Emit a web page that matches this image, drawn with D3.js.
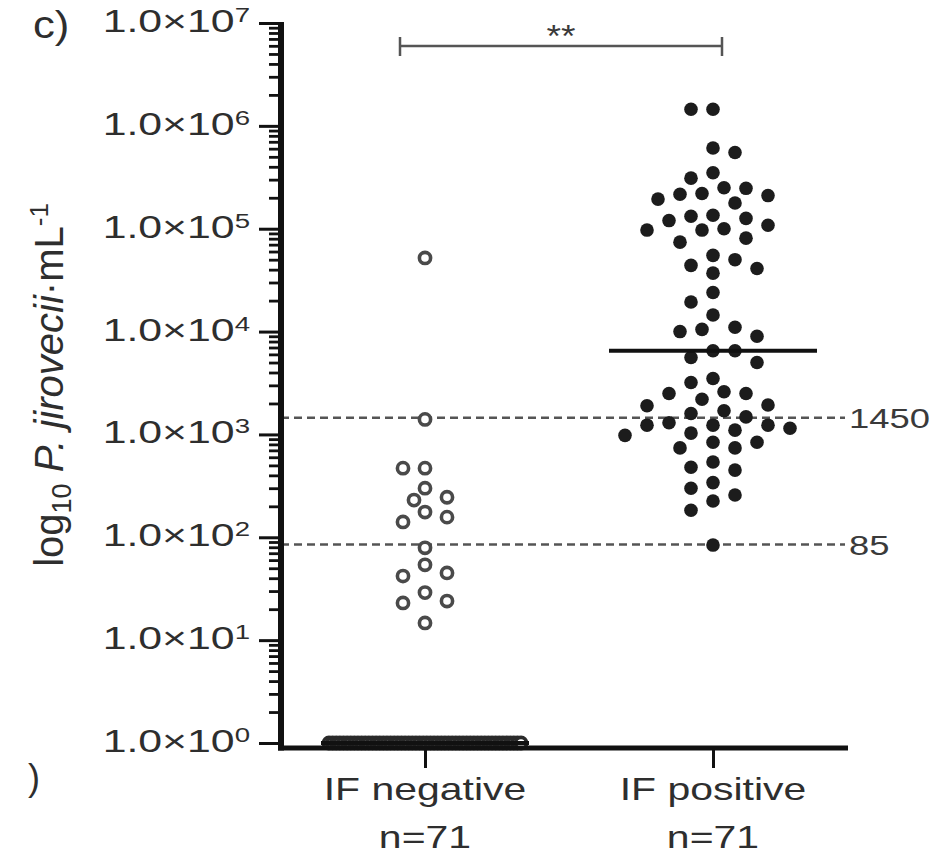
<!DOCTYPE html>
<html>
<head>
<meta charset="utf-8">
<script src="https://cdn.jsdelivr.net/npm/d3@7"></script>
<style>
    body { margin:0; background:#fff; }
    text { font-family: "Liberation Sans", Arial, sans-serif; }
</style>
</head>
<body>
<script>
    // ---- data ----
    var groups = ["IF negative", "IF positive"];
    var groupN = ["n=71", "n=71"];

    // IF negative: 18 quantified samples + 53 at the 1.0 floor
    var negValues = [52000, 1400, 470, 470, 300, 245, 230, 176, 157, 141, 79, 54, 45, 42, 29, 24, 23, 14.7,
        1, 1, 1, 1, 1, 1, 1, 1, 1, 1, 1, 1, 1, 1, 1, 1, 1, 1, 1, 1, 1, 1, 1, 1, 1, 1, 1,
        1, 1, 1, 1, 1, 1, 1, 1, 1, 1, 1, 1, 1, 1, 1, 1, 1, 1, 1, 1, 1, 1, 1, 1, 1, 1, 1];

    var posValues = [1450000, 1450000, 610000, 550000, 350000, 310000, 250000, 247000, 220000, 216000,
        210000, 194000, 178000, 135000, 132000, 126000, 120000, 108000, 100000, 97000,
        97000, 81000, 74000, 55000, 50000, 44000, 41000, 37000, 24000, 19400,
        14500, 11000, 10500, 10000, 9000, 6500, 6500, 5600, 5000, 3500,
        3200, 2600, 2500, 2500, 2200, 1930, 1900, 1700, 1600, 1480,
        1300, 1230, 1230, 1230, 1150, 1100, 1030, 980, 840, 840,
        740, 740, 540, 480, 450, 340, 300, 258, 225, 183, 84];

    var cutoffs = [1450, 85];
    var majorTicks = [1, 10, 100, 1e3, 1e4, 1e5, 1e6, 1e7];
    var sigLabel = "**";

    // ---- layout ----
    var width = 950, height = 857;
    var axisX = 281, axisY = 748, axisRight = 848;
    var medianHalf = 104;

    var svg = d3.select("body").append("svg")
        .attr("width", width)
        .attr("height", height);

    var y = d3.scaleLog().domain([1, 1e7]).range([743, 23]);
    var x = d3.scalePoint().domain(groups).range([281, 857]).padding(0.5);

    // beeswarm: greedy placement on a half-step grid, crowds of identical values squeezed in one row
    function swarm(vals, cx, step, minDist, crowdHalf) {
        var counts = d3.rollup(vals, function(v) { return v.length; }, function(d) { return d; });
        var sorted = vals.slice().sort(function(a, b) { return b - a; });
        var placed = [], crowdIdx = new Map();
        sorted.forEach(function(v) {
            var py = y(v);
            var n = counts.get(v);
            if (n > 9) {
                var i = crowdIdx.get(v) || 0;
                crowdIdx.set(v, i + 1);
                placed.push({v: v, x: cx - crowdHalf + i * (2 * crowdHalf / (n - 1)), y: py, crowd: true});
                return;
            }
            var left = placed.filter(function(p) { return !p.crowd && p.x < cx; }).length;
            var right = placed.filter(function(p) { return !p.crowd && p.x > cx; }).length;
            for (var k = 0; k < 30; k++) {
                var offs = k === 0 ? [0] : (left <= right ? [-k * step, k * step] : [k * step, -k * step]);
                var ok = null;
                for (var j = 0; j < offs.length; j++) {
                    var px = cx + offs[j];
                    var clash = placed.some(function(p) {
                        var dx = p.x - px, dy = p.y - py;
                        return dx * dx + dy * dy < minDist * minDist;
                    });
                    if (!clash) { ok = px; break; }
                }
                if (ok !== null) { placed.push({v: v, x: ok, y: py}); return; }
            }
        });
        return placed;
    }

    var negPts = swarm(negValues, x(groups[0]), 11, 16, 96);
    var posPts = swarm(posValues, x(groups[1]), 11, 17, 96);

    // cut-off lines
    svg.selectAll(".cutoff").data(cutoffs).enter().append("line")
        .attr("class", "cutoff")
        .attr("x1", axisX).attr("x2", 845)
        .attr("y1", function(d) { return y(d); })
        .attr("y2", function(d) { return y(d); })
        .attr("stroke", "#555")
        .attr("stroke-width", 2.5)
        .attr("stroke-dasharray", "8,5");

    svg.selectAll(".cutoff-label").data(cutoffs).enter().append("text")
        .attr("transform", function(d) { return "translate(849," + (y(d) + 10) + ") scale(1.3,1)"; })
        .attr("font-size", 28)
        .attr("fill", "#3a3a3a")
        .text(function(d) { return d; });

    // points
    svg.selectAll(".neg").data(negPts).enter().append("circle")
        .attr("cx", function(d) { return d.x; })
        .attr("cy", function(d) { return d.y; })
        .attr("r", 5.6)
        .attr("fill", "#fff")
        .attr("stroke", function(d) { return d.crowd ? "#2a2a2a" : "#4a4a4a"; })
        .attr("stroke-width", 3.6);

    svg.selectAll(".pos").data(posPts).enter().append("circle")
        .attr("cx", function(d) { return d.x; })
        .attr("cy", function(d) { return d.y; })
        .attr("r", 6.8)
        .attr("fill", "#1c1c1c");

    // medians
    var medians = [d3.median(negValues), d3.median(posValues)];
    svg.selectAll(".median").data(groups).enter().append("line")
        .attr("x1", function(d) { return x(d) - medianHalf; })
        .attr("x2", function(d) { return x(d) + medianHalf; })
        .attr("y1", function(d, i) { return y(medians[i]); })
        .attr("y2", function(d, i) { return y(medians[i]); })
        .attr("stroke", "#111")
        .attr("stroke-width", 4);

    // y axis: minor + major ticks
    var minorTicks = y.ticks().filter(function(t) { return majorTicks.indexOf(t) < 0; });
    var gMinor = svg.append("g")
        .attr("transform", "translate(" + axisX + ",0)")
        .call(d3.axisLeft(y).tickValues(minorTicks).tickSize(12).tickFormat(""));
    var gMajor = svg.append("g")
        .attr("transform", "translate(" + axisX + ",0)")
        .call(d3.axisLeft(y).tickValues(majorTicks).tickSize(22).tickFormat(""));
    gMinor.select(".domain").remove();
    gMajor.select(".domain").remove();
    gMinor.selectAll("line").attr("stroke", "#111").attr("stroke-width", 2.8);
    gMajor.selectAll("line").attr("stroke", "#111").attr("stroke-width", 3);

    svg.append("line")
        .attr("x1", axisX).attr("x2", axisX)
        .attr("y1", y(1e7) - 1).attr("y2", axisY + 2.5)
        .attr("stroke", "#111").attr("stroke-width", 6);

    svg.selectAll(".ylab").data(majorTicks).enter().append("text")
        .attr("transform", function(d) { return "translate(250," + (y(d) + 9) + ") scale(1.38,1)"; })
        .attr("text-anchor", "end")
        .attr("font-size", 31)
        .attr("fill", "#2e2e2e")
        .each(function(d) {
            var t = d3.select(this);
            t.append("tspan").text("1.0\u00d710");
            t.append("tspan").attr("font-size", 20).attr("dy", -10).text(Math.round(Math.log10(d)));
        });

    // x axis
    svg.append("line")
        .attr("x1", axisX - 3).attr("x2", axisRight)
        .attr("y1", axisY).attr("y2", axisY)
        .attr("stroke", "#111").attr("stroke-width", 5);

    var gx = svg.append("g")
        .attr("transform", "translate(0," + axisY + ")")
        .call(d3.axisBottom(x).tickSize(20).tickFormat(""));
    gx.select(".domain").remove();
    gx.selectAll("line").attr("stroke", "#111").attr("stroke-width", 3);

    svg.selectAll(".xlab").data(groups).enter().append("text")
        .attr("transform", function(d) { return "translate(" + x(d) + ",800) scale(1.28,1)"; })
        .attr("text-anchor", "middle")
        .attr("font-size", 32)
        .attr("fill", "#2e2e2e")
        .text(function(d) { return d; });
    svg.selectAll(".xn").data(groups).enter().append("text")
        .attr("transform", function(d) { return "translate(" + x(d) + ",848) scale(1.28,1)"; })
        .attr("text-anchor", "middle")
        .attr("font-size", 32)
        .attr("fill", "#2e2e2e")
        .text(function(d, i) { return groupN[i]; });

    // y title
    var title = svg.append("text")
        .attr("transform", "translate(63,385) rotate(-90)")
        .attr("text-anchor", "middle")
        .attr("font-size", 40)
        .attr("fill", "#2e2e2e");
    title.append("tspan").text("log");
    title.append("tspan").attr("font-size", 27).attr("dy", 8).text("10");
    title.append("tspan").attr("dy", -8).text(" ");
    title.append("tspan").attr("font-style", "italic").text("P. jirovecii");
    title.append("tspan").text("\u00b7mL");
    title.append("tspan").attr("font-size", 26).attr("dy", -15).text("-1");

    // significance bracket
    var bx1 = x(groups[0]) - 25, bx2 = x(groups[1]) + 9, by = 46;
    svg.append("path")
        .attr("d", "M" + bx1 + "," + (by - 9) + "V" + (by + 10) + "M" + bx1 + "," + by + "H" + bx2 +
            "M" + bx2 + "," + (by - 9) + "V" + (by + 10))
        .attr("fill", "none")
        .attr("stroke", "#555")
        .attr("stroke-width", 2.5);
    svg.append("text")
        .attr("transform", "translate(" + ((bx1 + bx2) / 2) + ",47) scale(1.2,1)")
        .attr("text-anchor", "middle")
        .attr("font-size", 31)
        .attr("fill", "#3a3a3a")
        .text(sigLabel);

    // panel letters
    svg.append("text")
        .attr("transform", "translate(33,38) scale(1.15,1)")
        .attr("font-size", 38)
        .attr("fill", "#2e2e2e")
        .text("c)");
    svg.append("text")
        .attr("transform", "translate(28,790)")
        .attr("font-size", 36)
        .attr("fill", "#2e2e2e")
        .text(")");
</script>
</body>
</html>
